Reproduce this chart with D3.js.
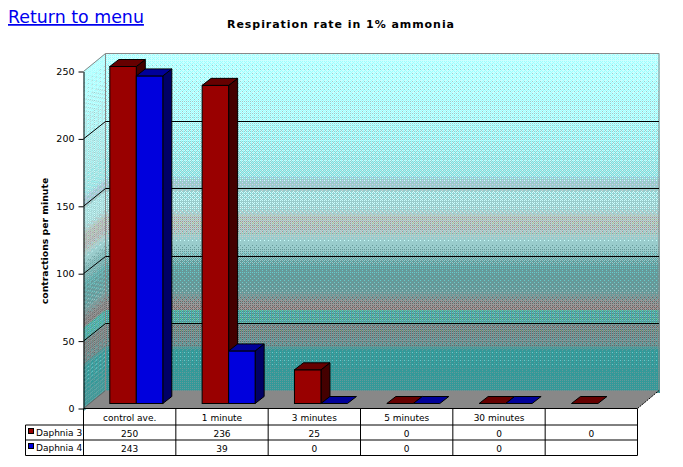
<!DOCTYPE html>
<html><head><meta charset="utf-8">
<script src="https://cdn.jsdelivr.net/npm/d3@7"></script>
<style>html,body{margin:0;padding:0;background:#fff}svg{display:block}text{font-family:"DejaVu Sans",sans-serif;fill:#000}</style>
</head><body><svg id="c" width="683" height="467"></svg>
<script>
const categories=["control ave.","1 minute","3 minutes","5 minutes","30 minutes",""];
const seriesNames=["Daphnia 3","Daphnia 4"];
const daphnia3=[250,236,25,0,0,0];
const daphnia4=[243,39,0,0,0,null];
const yTicks=[0,50,100,150,200,250];
const wallStops=[[53,"#bcffff"],[110,"#b2f6f6"],[175,"#9fe4e4"],[181,"#a4ccd2"],[190,"#a4ccd0"],[191,"#a8e0e0"],[208,"#a8dada"],[218,"#b4c2be"],[228,"#aec0bc"],[240,"#9cd0d0"],[256,"#80b8b8"],[266,"#68a8a8"],[275,"#64a0a0"],[290,"#6ca0a0"],[304,"#8e8a8c"],[309,"#8a8286"],[310,"#58a8a4"],[322,"#58a8a4"],[325,"#788a88"],[345,"#6c9090"],[350,"#3e9c9c"],[372,"#3e9a9a"],[391,"#409a9a"]];

const svg=d3.select("#c");
const F={l:83.5,b:408.5,t:71.5,r:637.5},dx=22,dy=18,bx=9,by=7,lift=5;
const y=d3.scaleLinear().domain([0,250]).range([F.b,F.t]);
const x=d3.scaleBand().domain(d3.range(categories.length)).range([F.l,F.r]);
const barW=26.5,barOff=26.3;

const bayer=[[0,8,2,10],[12,4,14,6],[3,11,1,9],[15,7,13,5]];
const hex=d3.scaleLinear().domain(wallStops.map(d=>d[0])).range(wallStops.map(d=>d[1])).interpolate(d3.interpolateRgb);
const defs=svg.append("defs");
const strips=d3.range(53,391,4);
const q=(v,t)=>Math.max(0,Math.min(255,Math.floor(v/51+t)*51));
strips.forEach((yy,i)=>{
  const p=defs.append("pattern").attr("id","w"+i).attr("patternUnits","userSpaceOnUse").attr("x",0).attr("y",yy).attr("width",4).attr("height",4);
  for(let r=0;r<4;r++)for(let c=0;c<4;c++){
    const col=d3.rgb(hex(yy+r));const t=(bayer[r][c]+.5)/16;
    p.append("rect").attr("x",c).attr("y",r).attr("width",1).attr("height",1).attr("shape-rendering","crispEdges")
     .attr("fill",d3.rgb(q(col.r,t),q(col.g,t),q(col.b,t)));
  }
});
svg.append("g").selectAll("rect").data(strips).join("rect").attr("x",F.l+dx).attr("width",F.r-F.l).attr("y",d=>d).attr("height",4)
 .attr("fill",(d,i)=>`url(#w${i})`).attr("shape-rendering","crispEdges");
const sl=dy/dx;
const leftG=svg.append("g").attr("transform",`translate(${F.l},${dy}) matrix(1,${-sl},0,1,0,0)`);
leftG.selectAll("rect").data(strips).join("rect").attr("x",0).attr("width",dx).attr("y",d=>d).attr("height",4.3).attr("fill",(d,i)=>`url(#w${i})`);
const wallY=v=>y(v)-dy;
svg.append("polygon").attr("points",[[F.l,F.b],[F.l+dx,F.b-dy],[F.r+dx-.5,F.b-dy],[F.r,F.b]].join(" ")).attr("fill","#888");
svg.append("path").attr("d",`M${F.l},${F.t}L${F.l+dx},${F.t-dy}H${F.r+dx-.5}V${F.b-dy}M${F.l+dx},${F.t-dy}V${F.b-dy}`).attr("fill","none").attr("stroke","#888").attr("stroke-width",1);
const gt=yTicks.filter(d=>d>0&&d<250);
svg.selectAll(".g").data(gt).join("path").attr("class","g").attr("fill","none").attr("stroke","#000").attr("stroke-width",1)
 .attr("d",d=>`M${F.l},${y(d)}L${F.l+dx},${Math.round(wallY(d))+.5}H${F.r+dx-.5}`);
svg.append("path").attr("d",`M${F.l},${F.b}L${F.l+dx},${F.b-dy}`).attr("stroke","#666").attr("fill","none");
svg.append("path").attr("d",`M${F.r},${F.b}L${F.r+dx-.5},${F.b-dy}`).attr("stroke","#000").attr("stroke-dasharray","2 1").attr("fill","none");

const colors=[{f:"#990000",t:"#660000",s:"#440000"},{f:"#0000dd",t:"#000099",s:"#000066"}];
const bars=svg.append("g").attr("stroke","#000").attr("stroke-width",1).attr("stroke-linejoin","miter");
[daphnia3,daphnia4].forEach((vals,si)=>{
  vals.forEach((v,i)=>{
    if(v===null)return;
    const x0=x(i)+barOff+si*barW,x1=x0+barW,yb=y(0)-lift,yt=y(v)-lift,c=colors[si];
    if(v>0){
      bars.append("polygon").attr("fill",c.s).attr("points",[[x1,yt],[x1+bx,yt-by],[x1+bx,yb-by],[x1,yb]].join(" "));
      bars.append("rect").attr("fill",c.f).attr("x",x0).attr("y",yt).attr("width",barW).attr("height",yb-yt);
    }
    bars.append("polygon").attr("fill",c.t).attr("points",[[x0,yt],[x0+bx,yt-by],[x1+bx,yt-by],[x1,yt]].join(" "));
  });
});

const ax=svg.append("g").attr("transform",`translate(${F.l},0)`).call(d3.axisLeft(y).tickValues(yTicks).tickSize(5).tickPadding(4).tickSizeOuter(0));
ax.selectAll("text").attr("font-size",9.5).style("font-family",'"DejaVu Sans",sans-serif').attr("fill","#000");
ax.select(".domain").attr("stroke","#000");

const rows=[409,425,440,455.5];
const t=svg.append("g").attr("stroke","#000").attr("stroke-width",1).attr("fill","none");
const edges=x.domain().map(d=>x(d)).concat(F.r);
t.selectAll(".v").data(edges).join("line").attr("x1",d=>d).attr("x2",d=>d).attr("y1",rows[0]).attr("y2",rows[3]);
t.append("path").attr("d",`M${F.l},${rows[0]-.5}H${F.r}M25.5,${rows[1]}H${F.r}M25.5,${rows[2]}H${F.r}M25.5,${rows[3]}H${F.r}M25.5,${rows[1]}V${rows[3]}`);
const cell=(txt,i,r)=>svg.append("text").attr("x",x(i)+x.bandwidth()/2).attr("y",r).attr("text-anchor","middle").attr("font-size",9).text(txt);
categories.forEach((c,i)=>cell(c,i,421));
daphnia3.forEach((v,i)=>cell(v,i,437));
daphnia4.forEach((v,i)=>{if(v!==null)cell(v,i,452)});
seriesNames.forEach((n,i)=>{
  const ry=[433,448][i];
  svg.append("rect").attr("x",28.5).attr("y",ry-4.5).attr("width",5).attr("height",5).attr("fill",colors[i].f).attr("stroke","#000");
  svg.append("text").attr("x",36).attr("y",ry+3).attr("font-size",9).text(n);
});

svg.append("a").attr("href","#").append("text").attr("x",8).attr("y",23).attr("font-size",17.4).style("fill","#0000ee").attr("text-decoration","underline").text("Return to menu");
svg.append("text").attr("x",341).attr("y",28).attr("text-anchor","middle").attr("font-size",11).attr("font-weight","bold").attr("letter-spacing",.95).text("Respiration rate in 1% ammonia");
svg.append("text").attr("transform","translate(48,241) rotate(-90)").attr("text-anchor","middle").attr("font-size",9.3).attr("font-weight","bold").text("contractions per minute");
</script></body></html>
